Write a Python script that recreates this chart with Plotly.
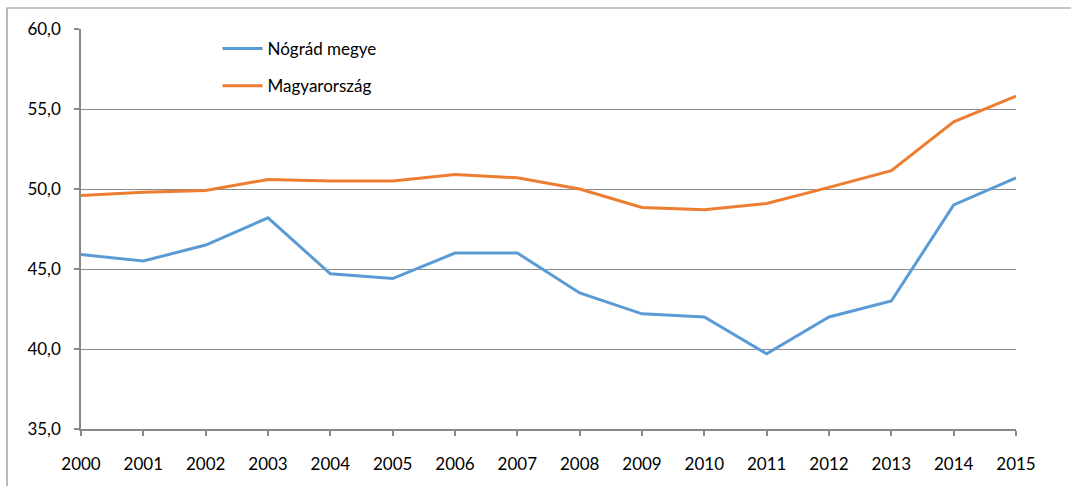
import plotly.graph_objects as go

years = list(range(2000, 2016))
nograd = [45.9, 45.5, 46.5, 48.2, 44.7, 44.4, 46.0, 46.0, 43.5, 42.2, 42.0, 39.7, 42.0, 43.0, 49.0, 50.7]
magyar = [49.6, 49.8, 49.9, 50.6, 50.5, 50.5, 50.9, 50.7, 50.0, 48.85, 48.7, 49.1, 50.1, 51.15, 54.2, 55.8]
y_ticks = [35, 40, 45, 50, 55, 60]

FONT = "Lato, 'Open Sans', sans-serif"

fig = go.Figure()
fig.add_trace(go.Scatter(x=years, y=nograd, mode="lines", name="Nógrád megye",
                         line=dict(color="#5B9BD5", width=3), legendgroup="a"))
fig.add_trace(go.Scatter(x=years, y=magyar, mode="lines", name="Magyarország",
                         line=dict(color="#ED7D31", width=3), legendgroup="b"))

fig.update_layout(
    width=1071, height=486,
    margin=dict(l=81, r=55, t=29, b=57),
    paper_bgcolor="white", plot_bgcolor="white",
    separators=", ",
    font=dict(family=FONT, size=17, color="#000000"),
    showlegend=True,
    legend=dict(x=0.146, y=0.995, xanchor="left", yanchor="top",
                bgcolor="rgba(0,0,0,0)", traceorder="grouped", tracegroupgap=12,
                font=dict(family=FONT, size=17, color="#000000"),
                itemwidth=40),
    xaxis=dict(range=[2000, 2015], tickmode="array", tickvals=years,
               ticktext=[str(y) for y in years],
               showgrid=False, zeroline=False,
               showline=True, linecolor="#888888", linewidth=1.5,
               ticks="outside", ticklen=5, tickcolor="#888888", tickwidth=1.5,
               ticklabelstandoff=14,
               tickfont=dict(family=FONT, size=17, color="#000000")),
    yaxis=dict(range=[35, 60], tickmode="array", tickvals=y_ticks,
               tickformat=".1f",
               showgrid=True, gridcolor="#8c8c8c", gridwidth=1.2, zeroline=False,
               showline=True, linecolor="#888888", linewidth=1.5,
               ticks="outside", ticklen=5, tickcolor="#888888", tickwidth=1.5,
               ticklabelstandoff=10,
               tickfont=dict(family=FONT, size=17, color="#000000")),
)

# outer chart frame
fig.add_shape(type="rect", xref="paper", yref="paper",
              x0=-74/935, x1=1.2, y0=-0.2, y1=1 + 21/400,
              line=dict(color="#8c8c8c", width=1.2), fillcolor="rgba(0,0,0,0)", layer="below")

fig.write_html("out.html", config={"displayModeBar": False})

with open("out.html", encoding="utf-8") as f:
    html = f.read()
html = html.replace("<body>", '<body style="margin:0;padding:0;">', 1)
with open("out.html", "w", encoding="utf-8") as f:
    f.write(html)
